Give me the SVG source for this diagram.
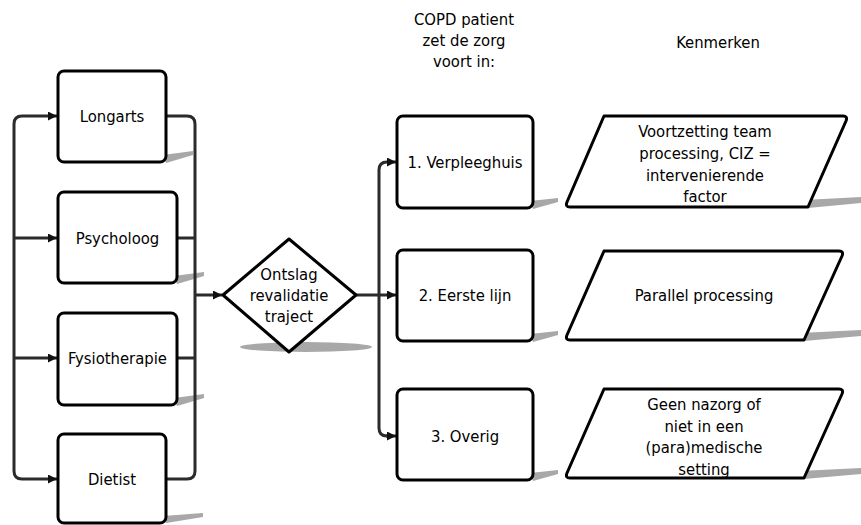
<svg xmlns="http://www.w3.org/2000/svg" width="861" height="525" viewBox="0 0 861 525">
<style>
.box{fill:#fff;stroke:#000;stroke-width:3}
.t{font-family:"DejaVu Sans Condensed","DejaVu Sans",Verdana,sans-serif;font-stretch:condensed;font-size:16.5px;fill:#000;text-anchor:middle}
.c{fill:none;stroke:#2b2b2b;stroke-width:3}
.sh{fill:#a8a8a8}
</style>
<defs>
<marker id="ah" viewBox="0 0 10 10" refX="10" refY="5" markerUnits="userSpaceOnUse" markerWidth="10" markerHeight="9" orient="auto">
<path d="M0 0 L10 5 L0 10 z" fill="#111"/>
</marker>
</defs>
<g id="headers">
<text class="t" x="464" y="25">COPD patient</text>
<text class="t" x="464" y="46">zet de zorg</text>
<text class="t" x="464" y="67">voort in:</text>
<text class="t" x="718" y="48">Kenmerken</text>
</g>
<g id="shadows">
<polygon class="sh" points="163,155 193,151 193,155 166,163"/>
<polygon class="sh" points="174,276 204,272 204,276 177,284"/>
<polygon class="sh" points="174,398 204,394 204,398 177,406"/>
<polygon class="sh" points="163,516 203,513 203,517 166,523"/>
<ellipse class="sh" cx="306" cy="347" rx="66" ry="5"/>
<polygon class="sh" points="530,201 558,198 558,202 533,209"/>
<polygon class="sh" points="530,334 558,331 558,335 533,342"/>
<polygon class="sh" points="530,473 558,470 558,474 533,481"/>
<polygon class="sh" points="804,200 861,197 861,203 808,208"/>
<polygon class="sh" points="800,333 861,330 861,336 804,341"/>
<polygon class="sh" points="800,471 861,468 861,474 804,479"/>
</g>
<g id="connectors">
<path class="c" d="M22 116 Q14 116 14 124 L14 471 Q14 479 22 479"/>
<path class="c" d="M22 116 H57" marker-end="url(#ah)"/>
<path class="c" d="M14 238 H57" marker-end="url(#ah)"/>
<path class="c" d="M14 358 H57" marker-end="url(#ah)"/>
<path class="c" d="M22 479 H57" marker-end="url(#ah)"/>
<path class="c" d="M166 116 H187 Q195 116 195 124 V471 Q195 479 187 479 H166"/>
<path class="c" d="M177 238 H195"/>
<path class="c" d="M177 358 H195"/>
<path class="c" d="M195 295 H222" marker-end="url(#ah)"/>
<path class="c" d="M356 295 H396" marker-end="url(#ah)"/>
<path class="c" d="M387 436 Q379 436 379 428 V170 Q379 162 387 162 H396" marker-end="url(#ah)"/>
<path class="c" d="M386 436 H396" marker-end="url(#ah)"/>
</g>
<g id="longarts">
<rect class="box" x="58" y="71" width="108" height="91" rx="6"/>
<text class="t" x="112" y="122">Longarts</text>
</g>
<g id="psycholoog">
<rect class="box" x="58" y="192" width="119" height="91" rx="6"/>
<text class="t" x="117.5" y="244">Psycholoog</text>
</g>
<g id="fysiotherapie">
<rect class="box" x="58" y="313" width="119" height="92" rx="6"/>
<text class="t" x="117.5" y="364">Fysiotherapie</text>
</g>
<g id="dietist">
<rect class="box" x="58" y="434" width="108" height="89" rx="6"/>
<text class="t" x="112" y="485">Dietist</text>
</g>
<g id="ontslag">
<path class="box" stroke-linejoin="round" d="M223 295 L289 239 L356 295 L289 352 Z"/>
<text class="t" x="289" y="280">Ontslag</text>
<text class="t" x="289" y="301">revalidatie</text>
<text class="t" x="289" y="322">traject</text>
</g>
<g id="verpleeghuis">
<rect class="box" x="397" y="116" width="136" height="92" rx="6"/>
<text class="t" x="465" y="168">1. Verpleeghuis</text>
</g>
<g id="eerstelijn">
<rect class="box" x="397" y="250" width="136" height="91" rx="6"/>
<text class="t" x="465" y="301">2. Eerste lijn</text>
</g>
<g id="overig">
<rect class="box" x="397" y="389" width="136" height="91" rx="6"/>
<text class="t" x="465" y="442">3. Overig</text>
</g>
<g id="kenmerk1">
<path class="box" stroke-linejoin="round" d="M604 116 L843 116 Q848 116 846 121 L808 207 L570 207 Q565 207 567 202 Z"/>
<text class="t" x="705" y="137">Voortzetting team</text>
<text class="t" x="705" y="159">processing, CIZ =</text>
<text class="t" x="705" y="181">intervenierende</text>
<text class="t" x="705" y="202">factor</text>
</g>
<g id="kenmerk2">
<path class="box" stroke-linejoin="round" d="M604 251 L839 251 Q844 251 842 256 L804 340 L570 340 Q565 340 567 335 Z"/>
<text class="t" x="704" y="301">Parallel processing</text>
</g>
<g id="kenmerk3">
<path class="box" stroke-linejoin="round" d="M604 389 L839 389 Q844 389 842 394 L804 478 L570 478 Q565 478 567 473 Z"/>
<text class="t" x="704" y="410">Geen nazorg of</text>
<text class="t" x="704" y="432">niet in een</text>
<text class="t" x="704" y="453">(para)medische</text>
<text class="t" x="704" y="475">setting</text>
</g>
</svg>
